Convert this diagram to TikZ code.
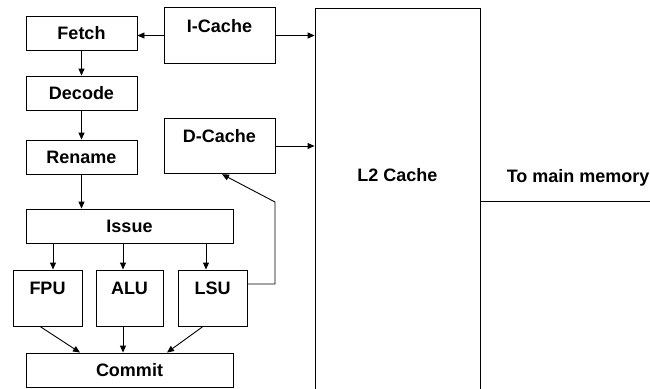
\documentclass[tikz,border=0pt]{standalone}
\usepackage{fontspec}
\setmainfont{Liberation Sans}
\usepackage{tikz}
\usetikzlibrary{arrows.meta,calc}

\begin{document}
\begin{tikzpicture}[x=1pt,y=-1pt,
        line width=0.9pt,
        font=\fontsize{18}{20}\selectfont\bfseries,
        stage/.style={draw, inner sep=0pt, minimum width=111, minimum height=34},
        unit/.style={draw, inner sep=0pt, minimum width=69, text height=24.5, text depth=31.5},
        cache/.style={draw, inner sep=0pt, minimum width=111, text height=24.5, text depth=31},
        arr/.style={-{Triangle[length=7pt,width=6pt]}}]
    \useasboundingbox (0,0) rectangle (650,388);
    \clip (0,0) rectangle (650,388);

    % pipeline
    \node[stage] (fetch) at (81.5,33) {Fetch};
    \node[stage] (decode) at (81.5,93) {Decode};
    \node[stage] (rename) at (81.5,157) {Rename};
    \node[stage, minimum width=207] (issue) at (129.5,226) {Issue};
    \node[unit] (fpu) at (47.5,298) {FPU};
    \node[unit, minimum width=67] (alu) at (129.5,298) {ALU};
    \node[unit] (lsu) at (212.5,298) {LSU};
    \node[stage, minimum width=207] (commit) at (129.5,370) {Commit};

    % caches
    \node[cache] (icache) at (219.5,35.5) {I-Cache};
    \node[cache] (dcache) at (219.5,146) {D-Cache};
    \node[draw, inner sep=0pt, minimum width=165, text height=173.5, text depth=210.5] (l2) at (397.5,200) {L2 Cache};
    \node[anchor=base west] (memlabel) at (503,182.5) {To main memory};
    \coordinate (mem) at (650,201);
    \coordinate (lsubend) at (275,202);

    \draw[arr] (icache.west) -- (icache.west -| fetch.east);
    \draw[arr] (fetch) -- (decode);
    \draw[arr] (decode) -- (rename);
    \draw[arr] (rename) -- (issue.north -| rename.south);
    \draw[arr] ([xshift=5.5]issue.south -| fpu.north) -- ([xshift=5.5]fpu.north);
    \draw[arr] ([xshift=-6.5]issue.south -| alu.north) -- ([xshift=-6.5]alu.north);
    \draw[arr] ([xshift=-6.5]issue.south -| lsu.north) -- ([xshift=-6.5]lsu.north);
    \draw[arr] ([xshift=-7.5]fpu.south) -- ([xshift=-49.5]commit.north);
    \draw[arr] ([xshift=-6.5]alu.south) -- ([xshift=-6.5]commit.north);
    \draw[arr] ([xshift=-9.5]lsu.south) -- ([xshift=37.5]commit.north);
    \draw[arr] ([yshift=14]lsu.east) -| (lsubend) -- ([xshift=2.5]dcache.south);
    \draw[arr] (icache.east) -- (icache.east -| l2.west);
    \draw[arr] (dcache.east) -- (dcache.east -| l2.west);
    \draw (l2.east |- mem) -- (mem);
\end{tikzpicture}
\end{document}
